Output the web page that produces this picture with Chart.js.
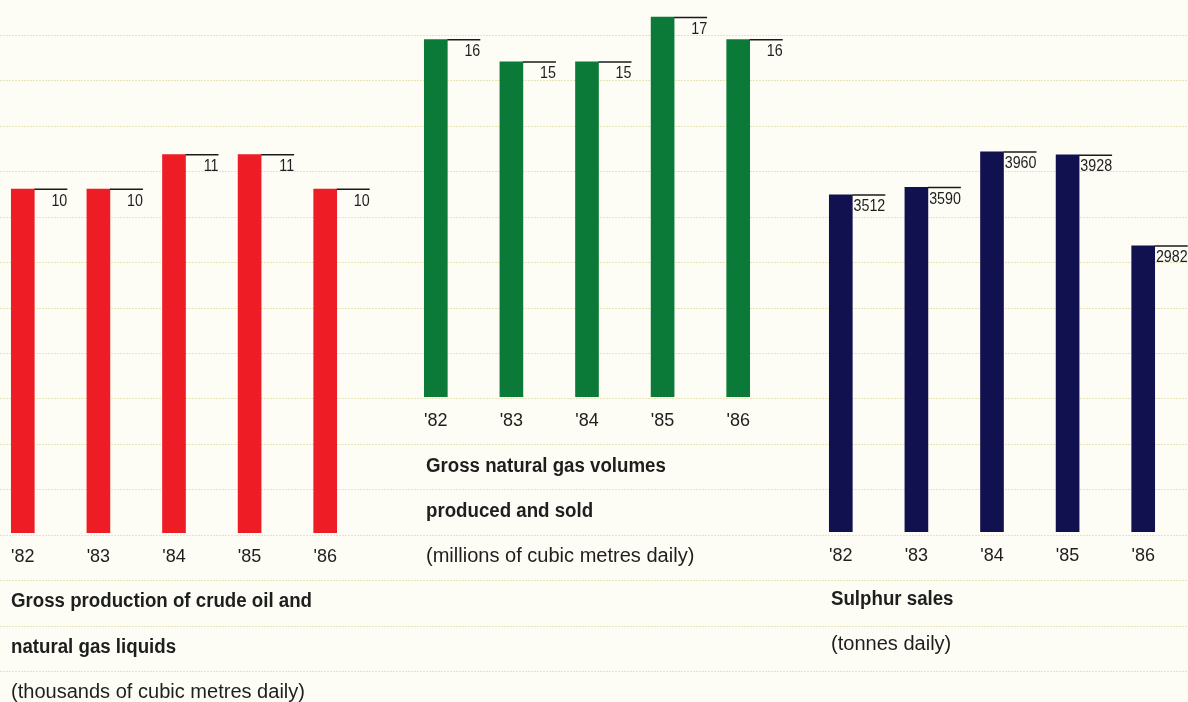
<!DOCTYPE html>
<html>
<head>
<meta charset="utf-8">
<script src="https://cdn.jsdelivr.net/npm/chart.js@4"></script>
<style>
  html, body { margin:0; padding:0; }
  body { width:1188px; height:702px; overflow:hidden; position:relative; background:#fdfdf6; }
  #grid { position:absolute; left:0; top:0; width:1188px; height:702px; }
  .cw { position:absolute; }
  .t { position:absolute; white-space:nowrap; font-family:'Liberation Sans',Arial,sans-serif; font-size:20px; line-height:20px; color:#1e1e1e; transform-origin:0 50%; }
  .b { font-weight:bold; }
</style>
</head>
<body>
<canvas id="grid" width="1188" height="702"></canvas>
<div class="cw" style="left:-15px;top:17px;width:420px;height:568px;"><canvas id="c1"></canvas></div>
<div class="cw" style="left:398px;top:6px;width:420px;height:443px;"><canvas id="c2"></canvas></div>
<div class="cw" style="left:803px;top:52px;width:420px;height:532px;"><canvas id="c3"></canvas></div>

<div class="t b" data-w="301" style="left:11px;top:590px;">Gross production of crude oil and</div>
<div class="t b" style="left:11px;top:636px;">natural gas liquids</div>
<div class="t" data-w="294" style="left:11px;top:681px;">(thousands of cubic metres daily)</div>

<div class="t b" style="left:426px;top:454.7px;">Gross natural gas volumes</div>
<div class="t b" style="left:426px;top:499.7px;">produced and sold</div>
<div class="t" style="left:426px;top:544.7px;">(millions of cubic metres daily)</div>

<div class="t b" style="left:831px;top:588px;">Sulphur sales</div>
<div class="t" style="left:831px;top:633px;">(tonnes daily)</div>

<script>
// ---- data ----
const years = ["'82", "'83", "'84", "'85", "'86"];
const oilValues = [10, 10, 11, 11, 10];
const gasValues = [16, 15, 15, 17, 16];
const sulphurValues = [3512, 3590, 3960, 3928, 2982];

const FONT = "'Liberation Sans', Arial, sans-serif";

// ---- condensed look for the caption text ----
(function(){
  const m = document.createElement('canvas').getContext('2d');
  const els = document.querySelectorAll('.t');
  let fb = 1, fr = 1;
  els.forEach(el => {
    if (el.dataset.w) {
      const bold = el.classList.contains('b');
      m.font = (bold ? 'bold ' : '') + '20px ' + FONT;
      const f = (+el.dataset.w) / m.measureText(el.textContent).width;
      if (bold) fb = f; else fr = f;
    }
  });
  els.forEach(el => {
    const f = el.classList.contains('b') ? fb : fr;
    el.style.transform = 'scaleX(' + f.toFixed(4) + ')';
  });
})();

// ---- background dotted rules ----
(function(){
  const g = document.getElementById('grid').getContext('2d');
  g.fillStyle = '#e9e4b8';
  for (let k = 0; k < 15; k++) {
    const y = Math.round(35 + 45.43 * k);
    for (let x = 0; x < 1188; x += 3) g.fillRect(x, y, 2, 1);
  }
})();

const valueLabels = {
  id: 'valueLabels',
  afterDatasetsDraw(chart) {
    const ctx = chart.ctx;
    const meta = chart.getDatasetMeta(0);
    const data = chart.data.datasets[0].data;
    ctx.save();
    meta.data.forEach((bar, i) => {
      const p = bar.getProps(['x', 'y', 'width'], true);
      const left = p.x - p.width / 2;
      const right = p.x + p.width / 2;
      const end = left + 56;
      ctx.strokeStyle = '#1a1a1a';
      ctx.lineWidth = 1.5;
      ctx.beginPath();
      ctx.moveTo(right, p.y + 0.25);
      ctx.lineTo(end, p.y + 0.25);
      ctx.stroke();
      ctx.save();
      ctx.translate(end, p.y + 16.5);
      ctx.scale(0.84, 1);
      ctx.fillStyle = '#1e1e1e';
      ctx.font = '17px ' + FONT;
      ctx.textAlign = 'right';
      ctx.textBaseline = 'alphabetic';
      ctx.fillText(String(data[i]), 0, 0);
      ctx.restore();
    });
    ctx.restore();
  }
};

function makeChart(id, values, color, maxVal) {
  return new Chart(document.getElementById(id), {
    type: 'bar',
    data: { labels: years, datasets: [{ data: values, backgroundColor: color, barThickness: 23, borderWidth: 0 }] },
    options: {
      responsive: true,
      maintainAspectRatio: false,
      animation: false,
      events: [],
      layout: { padding: { left: 0, right: 42, top: 0, bottom: 4 } },
      plugins: { legend: { display: false }, tooltip: { enabled: false }, title: { display: false } },
      scales: {
        x: {
          grid: { display: false, drawTicks: false },
          border: { display: false },
          ticks: { color: '#1e1e1e', padding: 13, font: { family: FONT, size: 18, lineHeight: '22px' } }
        },
        y: { display: false, min: 0, max: maxVal }
      }
    },
    plugins: [valueLabels]
  });
}

makeChart('c1', oilValues, '#ee1c25', 15);
makeChart('c2', gasValues, '#0b7a38', 17.5);
makeChart('c3', sulphurValues, '#11114f', 5000);
</script>
</body>
</html>
